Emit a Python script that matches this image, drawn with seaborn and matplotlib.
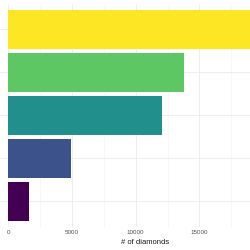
import matplotlib
matplotlib.use("Agg")
import matplotlib.pyplot as plt
import seaborn as sns
import pandas as pd
from matplotlib.ticker import MultipleLocator

cuts = ["Ideal", "Premium", "Very Good", "Good", "Fair"]
counts = [21551, 13791, 12082, 4906, 1610]
colors = ["#FDE725", "#5DC863", "#21908C", "#3B528B", "#440154"]

df = pd.DataFrame({"cut": cuts, "n": counts})

sns.set_theme(style="white")
plt.rcParams["font.family"] = ["Liberation Sans", "DejaVu Sans"]

fig = plt.figure(figsize=(2.5, 2.5), dpi=100)
ax = fig.add_axes([0.0, 1 - 227.3 / 250, 1.0, (227.3 - 3.5) / 250])

sns.barplot(data=df, x="n", y="cut", hue="cut", order=cuts, hue_order=cuts,
            palette=colors, width=0.9, legend=False, ax=ax, zorder=3,
            saturation=1, linewidth=0, edgecolor="none")

ax.set_xlim(-650, 18970)
ax.set_ylim(4.6, -0.6)
ax.xaxis.set_major_locator(MultipleLocator(5000))
ax.xaxis.set_minor_locator(MultipleLocator(2500))
ax.grid(True, which="major", axis="both", color="#EBEBEB", linewidth=0.6, zorder=0)
ax.grid(True, which="minor", axis="x", color="#F2F2F2", linewidth=0.4, zorder=0)
ax.set_axisbelow(True)
for s in ax.spines.values():
    s.set_visible(False)
ax.set_yticklabels([])
ax.tick_params(axis="both", which="both", length=0)
ax.tick_params(axis="x", labelsize=4.5, labelcolor="#4D4D4D", pad=2.2)
ax.set_ylabel("")
ax.set_xlabel("# of diamonds", fontsize=5.5, color="#1A1A1A")
ax.xaxis.set_label_coords(145.5 / 250, -0.051, transform=ax.transAxes)
ax.xaxis.label.set_verticalalignment("top")

fig.savefig("out.png", dpi=100)
